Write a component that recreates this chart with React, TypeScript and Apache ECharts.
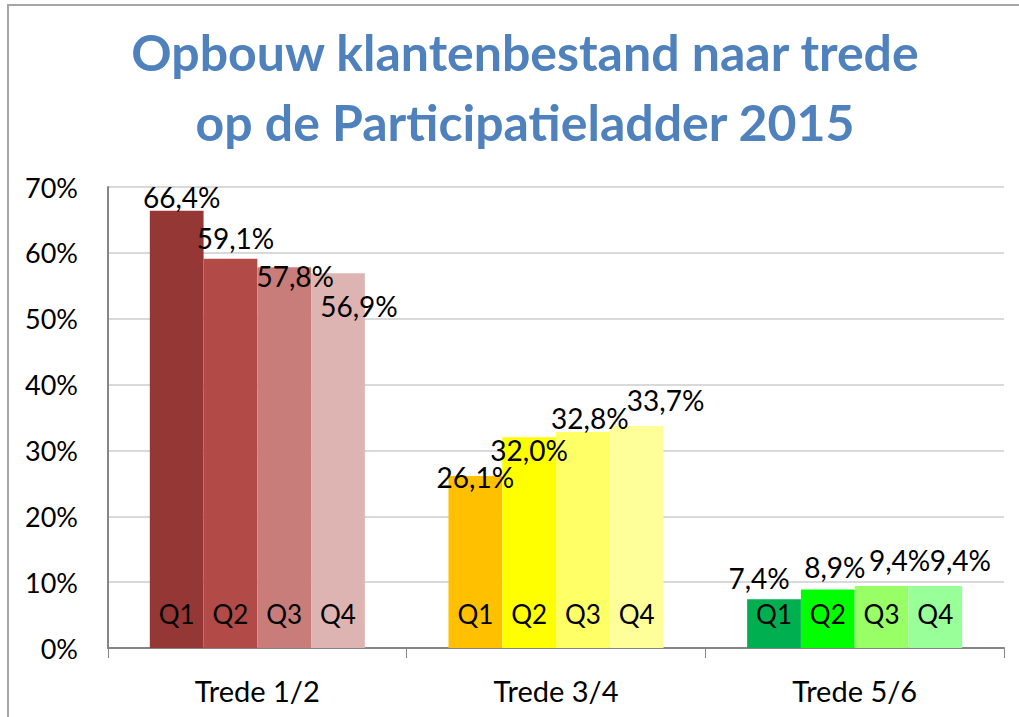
import React, { useEffect, useRef } from "react";
import * as echarts from "echarts";

const categories = ["Trede 1/2", "Trede 3/4", "Trede 5/6"];
const quarters = ["Q1", "Q2", "Q3", "Q4"];
const q1Values = [66.4, 26.1, 7.4];
const q2Values = [59.1, 32.0, 8.9];
const q3Values = [57.8, 32.8, 9.4];
const q4Values = [56.9, 33.7, 9.4];
const yTicks = [0, 10, 20, 30, 40, 50, 60, 70];

// colours per category, per quarter
const colorsByCategory = [
  ["#953735", "#B24B48", "#C97D7B", "#DEB4B3"],
  ["#FFC000", "#FFFF00", "#FFFF66", "#FFFF99"],
  ["#00B050", "#00FF00", "#99FF66", "#99FF99"],
];

// manual value-label nudges (px) per quarter, per category, as placed in the reference
const labelOffsets = [
  [[5, 0], [0, 15], [-15, -7]],
  [[5, -7], [0, 27], [7, -8]],
  [[11, 23], [7, 0], [18, -12]],
  [[21, 47], [29, -12], [25, -12]],
];

const FONT = "Lato";

export default function App() {
  const ref = useRef<HTMLDivElement>(null);
  useEffect(() => {
    if (!ref.current) return;
    const chart = echarts.init(ref.current, null, { renderer: "svg" });
    const allValues = [q1Values, q2Values, q3Values, q4Values];
    const valueSeries = allValues.map((vals, qi) => ({
      type: "bar",
      name: quarters[qi],
      xAxisIndex: 0,
      barGap: "0%",
      barCategoryGap: "28%",
      data: vals.map((v, ci) => ({
        value: v,
        itemStyle: { color: colorsByCategory[ci][qi] },
        label: { offset: labelOffsets[qi][ci] },
      })),
      label: {
        show: true,
        position: "top",
        distance: 0,
        fontFamily: FONT,
        fontSize: 28,
        color: "#000",
        formatter: (p: any) => p.value.toFixed(1).replace(".", ",") + "%",
      },
    }));
    const qSeries = allValues.map((vals, qi) => ({
      type: "bar",
      name: quarters[qi] + "-label",
      xAxisIndex: 1,
      barGap: "0%",
      barCategoryGap: "28%",
      silent: true,
      data: vals.map((v) => ({ value: v, itemStyle: { color: "rgba(0,0,0,0)" } })),
      label: {
        show: true,
        position: "insideBottom",
        distance: 21,
        fontFamily: FONT,
        fontSize: 26,
        color: "#000",
        formatter: () => quarters[qi],
      },
    }));
    chart.setOption({
      animation: false,
      backgroundColor: "#fff",
      title: {
        text: "Opbouw klantenbestand naar trede\nop de Participatieladder 2015",
        left: 520,
        top: 12,
        textAlign: "center",
        textStyle: {
          fontFamily: FONT,
          fontWeight: "bold",
          fontSize: 50,
          lineHeight: 70,
          color: "#4F81BD",
        },
      },
      graphic: [
        {
          type: "rect",
          shape: { x: 8, y: 5, width: 1030, height: 730 },
          style: { fill: "none", stroke: "#A6A6A6", lineWidth: 2 },
          silent: true,
        },
      ],
      grid: { left: 108, right: 15, top: 187, bottom: 69, containLabel: false },
      xAxis: [
        {
          type: "category",
          data: categories,
          axisLine: { show: true, lineStyle: { color: "#868686", width: 2 } },
          axisTick: { show: true, length: 10, lineStyle: { color: "#868686", width: 1 } },
          axisLabel: {
            fontFamily: FONT,
            fontSize: 29,
            color: "#000",
            margin: 28,
          },
        },
        {
          type: "category",
          data: categories,
          show: false,
          position: "bottom",
        },
      ],
      yAxis: {
        type: "value",
        min: yTicks[0],
        max: yTicks[yTicks.length - 1],
        interval: 10,
        axisLine: { show: true, lineStyle: { color: "#868686", width: 2 } },
        axisTick: { show: false },
        splitLine: { lineStyle: { color: "#D9D9D9", width: 2 } },
        axisLabel: {
          fontFamily: FONT,
          fontSize: 27,
          color: "#000",
          margin: 30,
          formatter: "{value}%",
        },
      },
      series: [...valueSeries, ...qSeries],
    });
    return () => chart.dispose();
  }, []);
  return (
    <div
      ref={ref}
      style={{ position: "fixed", left: 0, top: 0, width: 1019, height: 717 }}
    />
  );
}
